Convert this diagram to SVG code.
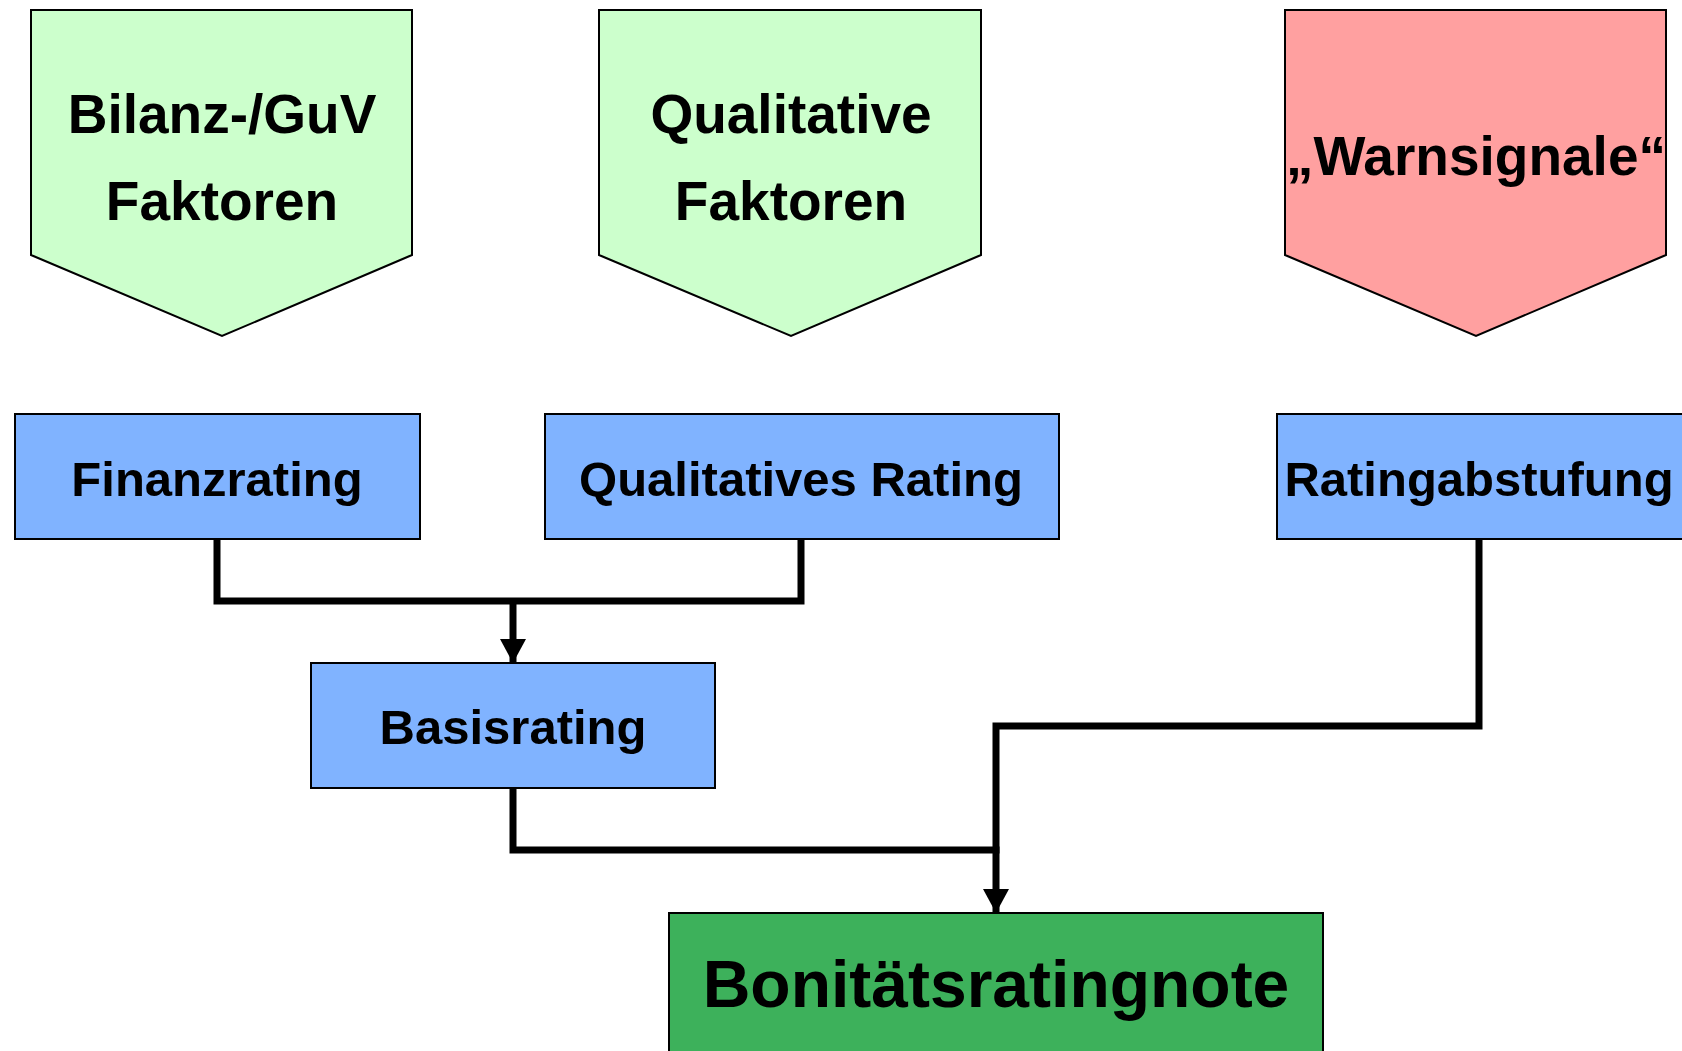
<svg xmlns="http://www.w3.org/2000/svg" width="1682" height="1051" viewBox="0 0 1682 1051">
<style>
text{font-family:"Liberation Sans",Arial,sans-serif;font-weight:bold;fill:#000;text-anchor:middle}
.pent{stroke:#000;stroke-width:2}
.g{fill:#CCFFCC}
.r{fill:#FFA0A0}
.box{fill:#80B3FF;stroke:#000;stroke-width:2}
.fin{fill:#3DB15B;stroke:#000;stroke-width:2}
.con{fill:none;stroke:#000;stroke-width:7;stroke-linejoin:miter;stroke-linecap:square}
.arr{stroke-linecap:butt}
.big{font-size:55px}
.mid{font-size:49px}
</style>
<defs>
<marker id="ah" markerUnits="userSpaceOnUse" markerWidth="26" markerHeight="26" refX="24" refY="13" orient="auto">
<path d="M0,0 L24,13 L0,26 Z" fill="#000"/>
</marker>
</defs>
<rect width="1682" height="1051" fill="#fff"/>
<g id="connectors">
<path class="con" d="M217,539 V601 H801 V539"/>
<path class="con arr" d="M513,601 V663" marker-end="url(#ah)"/>
<path class="con" d="M513,788 V850 H996"/>
<path class="con arr" d="M1479,539 V726 H996 V913" marker-end="url(#ah)"/>
</g>
<g id="bilanz">
<polygon class="pent g" points="31,10 412,10 412,255 222,336 31,255"/>
<text class="big" x="222" y="133">Bilanz-/GuV</text>
<text class="big" x="222" y="220">Faktoren</text>
</g>
<g id="qualitative">
<polygon class="pent g" points="599,10 981,10 981,255 791,336 599,255"/>
<text class="big" x="791" y="133">Qualitative</text>
<text class="big" x="791" y="220">Faktoren</text>
</g>
<g id="warnsignale">
<polygon class="pent r" points="1285,10 1666,10 1666,255 1476,336 1285,255"/>
<text class="big" x="1476" y="175">„Warnsignale“</text>
</g>
<g id="finanzrating">
<rect class="box" x="15" y="414" width="405" height="125"/>
<text class="mid" x="217" y="496">Finanzrating</text>
</g>
<g id="qualitatives-rating">
<rect class="box" x="545" y="414" width="514" height="125"/>
<text class="mid" x="801" y="496">Qualitatives Rating</text>
</g>
<g id="ratingabstufung">
<rect class="box" x="1277" y="414" width="410" height="125"/>
<text class="mid" x="1479" y="496">Ratingabstufung</text>
</g>
<g id="basisrating">
<rect class="box" x="311" y="663" width="404" height="125"/>
<text class="mid" x="513" y="744">Basisrating</text>
</g>
<g id="bonitaetsratingnote">
<rect class="fin" x="669" y="913" width="654" height="150"/>
<text x="996" y="1007" style="font-size:66px">Bonitätsratingnote</text>
</g>
</svg>
